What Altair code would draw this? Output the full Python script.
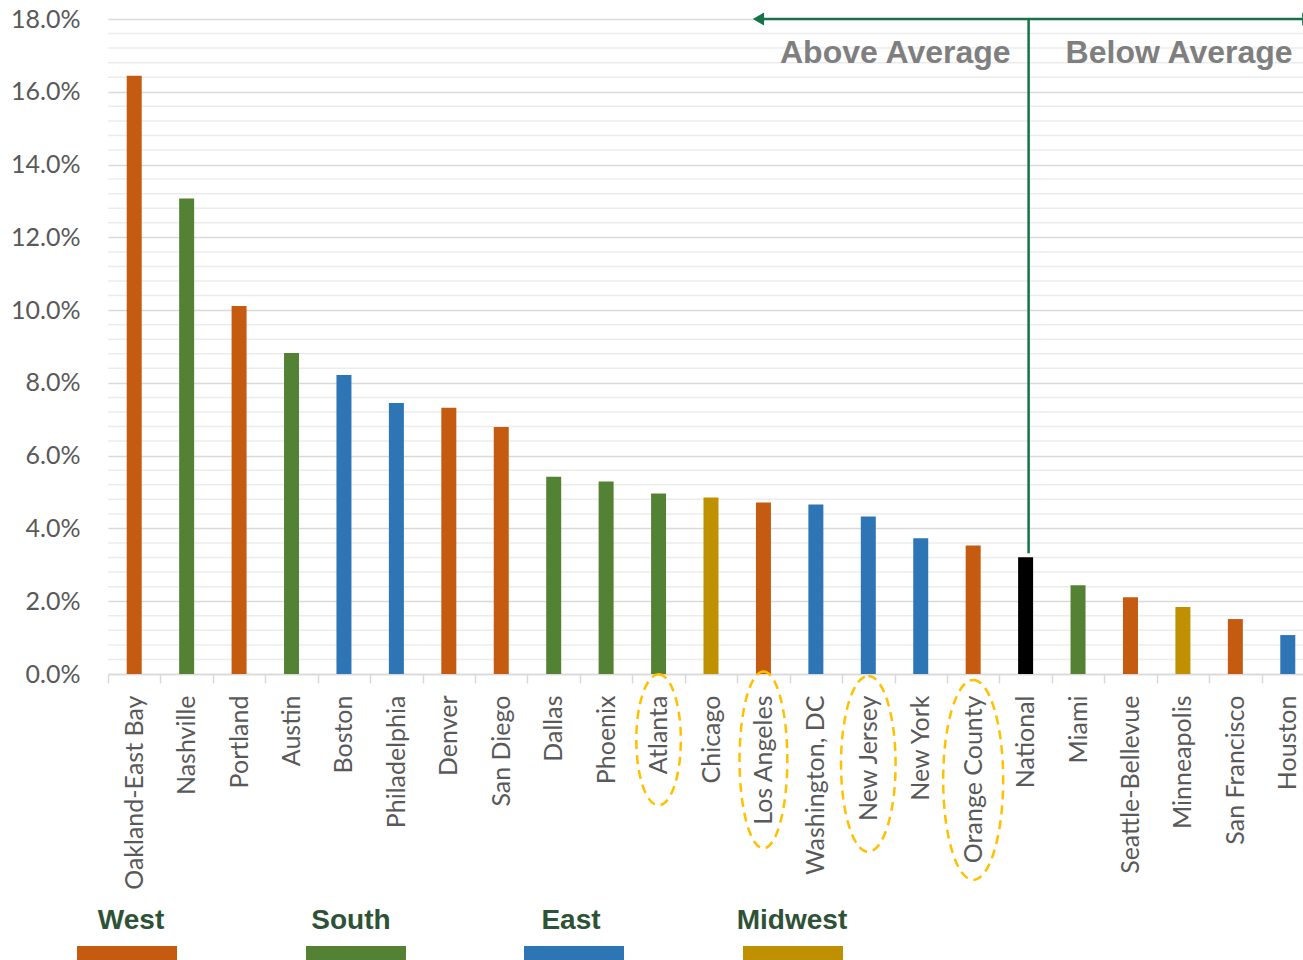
import altair as alt
import pandas as pd

# ---------------- data ----------------
cities = ["Oakland-East Bay", "Nashville", "Portland", "Austin", "Boston", "Philadelphia",
          "Denver", "San Diego", "Dallas", "Phoenix", "Atlanta", "Chicago", "Los Angeles",
          "Washington, DC", "New Jersey", "New York", "Orange County", "National", "Miami",
          "Seattle-Bellevue", "Minneapolis", "San Francisco", "Houston"]
growth_pct = [16.44, 13.07, 10.11, 8.82, 8.22, 7.45, 7.32, 6.79, 5.42, 5.29, 4.96, 4.85, 4.71,
              4.66, 4.33, 3.73, 3.53, 3.21, 2.44, 2.11, 1.84, 1.51, 1.07]
regions = ["West", "South", "West", "South", "East", "East", "West", "West", "South", "South",
           "South", "Midwest", "West", "East", "East", "East", "West", "National", "South",
           "West", "Midwest", "West", "East"]

region_names = ["West", "South", "East", "Midwest", "National"]
region_colors = ["#c55a11", "#548235", "#2e75b6", "#bf9000", "#000000"]

y_ticks = [0, 0.02, 0.04, 0.06, 0.08, 0.10, 0.12, 0.14, 0.16, 0.18]
minor_grid = [i * 0.004 for i in range(46) if i % 5]

# highlighted labels (dashed ellipses): city, centre (pct), width/height ratio, height px
circled = ["Atlanta", "Los Angeles", "New Jersey", "Orange County"]
circled_center_pct = [-1.81, -2.36, -2.47, -2.91]
circled_ratio = [0.34, 0.27, 0.31, 0.30]
circled_height = [131, 177, 176, 200]

avg_city = "National"
arrow_top = 0.18
line_bottom = 0.0332
label_y = 0.1706

# ---------------- layout ----------------
W, H = 1195, 655
XRANGE = 1206
PAD_L, PAD_T = 108, 19

df = pd.DataFrame({"city": cities, "growth": [g / 100 for g in growth_pct], "region": regions})

xscale = alt.Scale(domain=cities, range=[0, XRANGE], paddingInner=0, paddingOuter=0)
yscale = alt.Scale(domain=[0, 0.18], nice=False, zero=True)

x_enc = alt.X("city:N", scale=xscale, sort=cities,
              axis=alt.Axis(title=None, labelAngle=270, labelFont="Lato", labelFontSize=25,
                            labelColor="#595959", labelPadding=12, tickBand="extent",
                            tickSize=9, tickColor="#d9d9d9", tickWidth=1.5,
                            domainColor="#d9d9d9", domainWidth=1.5, grid=False,
                            labelLimit=400))
y_enc = alt.Y("growth:Q", scale=yscale,
              axis=alt.Axis(title=None, values=y_ticks, format=".1%", labelFont="Lato",
                            labelFontSize=25, labelColor="#595959", ticks=False, tickSize=0,
                            labelPadding=28, domain=False, grid=True, gridColor="#d9d9d9",
                            gridWidth=1.5))

minor = alt.Chart(pd.DataFrame({"v": minor_grid})).mark_rule(
    color="#ececec", strokeWidth=1.5
).encode(y=alt.Y("v:Q", scale=yscale))

bars = alt.Chart(df).mark_bar(width={"band": 0.286}).encode(
    x=x_enc,
    y=y_enc,
    color=alt.Color("region:N", scale=alt.Scale(domain=region_names, range=region_colors),
                    legend=None),
)

GREEN = "#157347"
ann = pd.DataFrame({"city": [avg_city], "top": [arrow_top], "bottom": [line_bottom],
                    "left": ["Los Angeles"], "right": ["Houston"], "ly": [label_y]})
xa = alt.X("city:N", scale=xscale, sort=cities)

vline = alt.Chart(ann).mark_rule(color=GREEN, strokeWidth=2.5, xOffset=3).encode(
    x=xa, y=alt.Y("top:Q", scale=yscale), y2="bottom:Q")
hline = alt.Chart(ann).mark_rule(color=GREEN, strokeWidth=2.5, xOffset=-4, x2Offset=26).encode(
    x=alt.X("left:N", scale=xscale, sort=cities), x2="right:N",
    y=alt.Y("top:Q", scale=yscale))
arrow_l = alt.Chart(ann).mark_point(shape="triangle-left", size=170, filled=True, color=GREEN,
                                    opacity=1, xOffset=-5).encode(
    x=alt.X("left:N", scale=xscale, sort=cities), y=alt.Y("top:Q", scale=yscale))
arrow_r = alt.Chart(ann).mark_point(shape="triangle-right", size=170, filled=True, color=GREEN,
                                    opacity=1, xOffset=20).encode(
    x=alt.X("right:N", scale=xscale, sort=cities), y=alt.Y("top:Q", scale=yscale))

above = alt.Chart(ann).mark_text(text="Above Average", align="right", baseline="middle",
                                 dx=-15, font="Liberation Sans", fontWeight="bold",
                                 fontSize=32, color="#7f7f7f").encode(
    x=xa, y=alt.Y("ly:Q", scale=yscale))
below = alt.Chart(ann).mark_text(text="Below Average", align="left", baseline="middle",
                                 dx=40, font="Liberation Sans", fontWeight="bold",
                                 fontSize=32, color="#7f7f7f").encode(
    x=xa, y=alt.Y("ly:Q", scale=yscale))

ell_df = pd.DataFrame({
    "city": circled,
    "yc": [c / 100 for c in circled_center_pct],
    "path": [f"M0,-1 A{r},1 0 1,1 0,1 A{r},1 0 1,1 0,-1 Z" for r in circled_ratio],
    "size": [h * h for h in circled_height],
})
ellipses = alt.Chart(ell_df).mark_point(filled=False, stroke="#ffc000", strokeWidth=2.5,
                                        strokeDash=[9, 6], opacity=1).encode(
    x=alt.X("city:N", scale=xscale, sort=cities),
    y=alt.Y("yc:Q", scale=yscale),
    shape=alt.Shape("path:N", scale=None),
    size=alt.Size("size:Q", scale=None),
)

# ---------------- custom legend ----------------
legend_names = ["West", "South", "East", "Midwest"]
legend_colors = region_colors[:4]
legend_text_x = [23, 243, 463, 684]
legend_rect_x = [-31, 198, 416, 635]
legend_layers = []
for name, col, tx, rx in zip(legend_names, legend_colors, legend_text_x, legend_rect_x):
    d = alt.Data(values=[{"name": name}])
    legend_layers.append(
        alt.Chart(d).mark_text(font="Liberation Sans", fontWeight="bold", fontSize=28,
                               color="#2e5236", align="center", baseline="middle").encode(
            text="name:N", x=alt.value(tx), y=alt.value(902)))
    legend_layers.append(
        alt.Chart(d).mark_rect(color=col).encode(
            x=alt.value(rx), x2=alt.value(rx + 100), y=alt.value(927), y2=alt.value(950)))

chart = alt.layer(minor, bars, vline, hline, arrow_l, arrow_r, above, below, ellipses,
                  *legend_layers).properties(
    width=W, height=H,
    autosize=alt.AutoSizeParams(type="none"),
    padding={"left": PAD_L, "top": PAD_T, "right": 0, "bottom": 960 - PAD_T - H},
).configure_view(stroke=None)

chart.save("out.html", embed_options={"renderer": "svg", "actions": False})
